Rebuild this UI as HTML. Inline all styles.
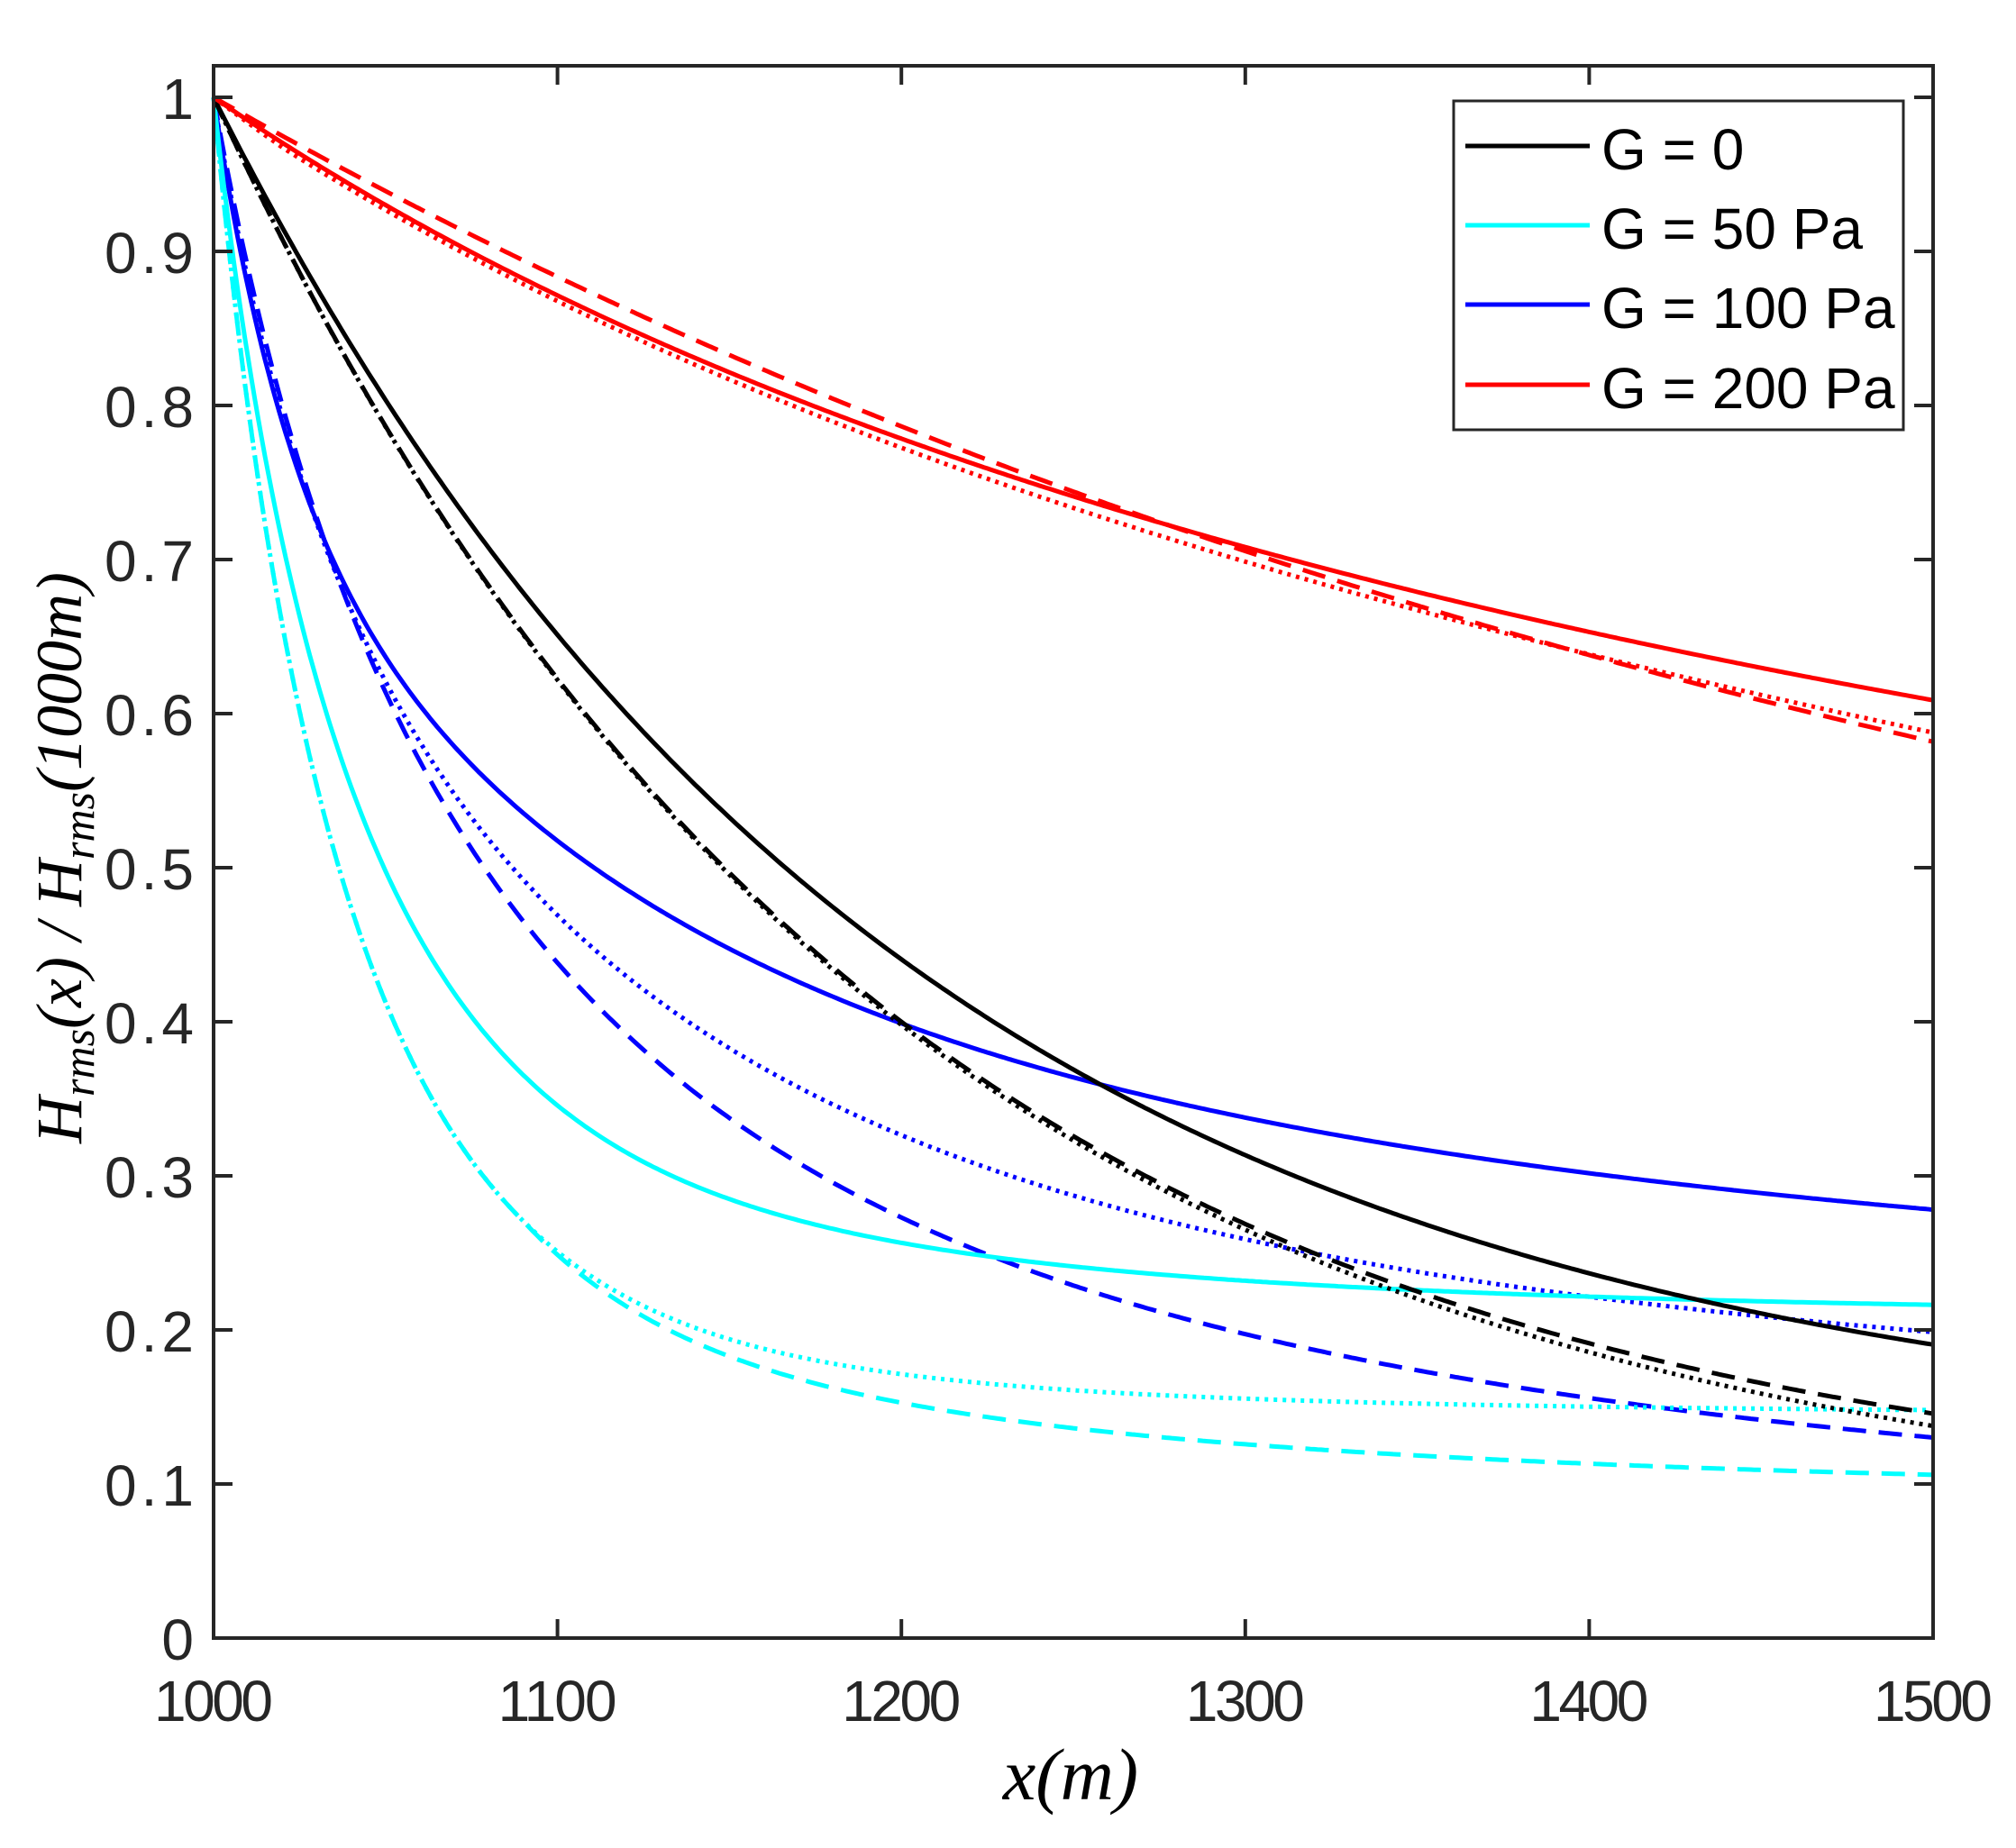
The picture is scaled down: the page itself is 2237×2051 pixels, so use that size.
<!DOCTYPE html>
<html><head><meta charset="utf-8"><style>
html,body{margin:0;padding:0;background:#fff;}
svg{display:block;}
.t{font-family:"Liberation Sans",sans-serif;fill:#262626;}
.m{font-family:"Liberation Serif",serif;font-style:italic;fill:#000;}
</style></head><body>
<svg id="s" width="2237" height="2051" viewBox="0 0 2237 2051" xmlns="http://www.w3.org/2000/svg">
<rect width="2237" height="2051" fill="#fff"/>
<g id="curves" fill="none" stroke-width="5" stroke-linejoin="round"></g>
<rect x="237" y="73" width="1908" height="1745" fill="none" stroke="#262626" stroke-width="4"/>
<g id="ticks" stroke="#262626" stroke-width="4"></g>
<g id="labels"></g>
<text class="m" x="1188" y="1997" font-size="82" text-anchor="middle">x(m)</text>
<text class="m" transform="translate(90,952) rotate(-90)" font-size="72" text-anchor="middle">H<tspan font-size="50" dy="14">rms</tspan><tspan dy="-14">(x) / H</tspan><tspan font-size="50" dy="14">rms</tspan><tspan dy="-14">(1000m)</tspan></text>
<rect x="1613" y="112" width="499" height="365" fill="#fff" stroke="#262626" stroke-width="3"/>
<g stroke-width="5">
<line x1="1626" y1="162" x2="1764" y2="162" stroke="#000"/>
<line x1="1626" y1="250" x2="1764" y2="250" stroke="#00ffff"/>
<line x1="1626" y1="338" x2="1764" y2="338" stroke="#0000ff"/>
<line x1="1626" y1="427" x2="1764" y2="427" stroke="#ff0000"/>
</g>
<g class="t" font-size="64">
<text class="t" x="1777" y="188" style="fill:#000">G = 0</text>
<text class="t" x="1777" y="276" style="fill:#000">G = 50 Pa</text>
<text class="t" x="1777" y="364" style="fill:#000">G = 100 Pa</text>
<text class="t" x="1777" y="453" style="fill:#000">G = 200 Pa</text>
</g>
</svg>
<script>
var X=function(v){return 237+(v-1000)*3.816;},Y=function(v){return 1818-1710*v;};
function ex(c,k){return function(t){return c+(1-c)*Math.exp(-k*t);};}
function pw(c,k,p){return function(t){return c+(1-c)/Math.pow(1+k*t,p);};}
function bump(f,B,tau){return function(t){return f(t)+B*t*Math.exp(-t/tau);};}
var bd=bump(pw(0.03,0.0113,1.2),0.0007,70);
var bo=bump(pw(0.10,0.01643,1),0.001,80);
var bs=bump(pw(0.165,0.01277,1),-0.004,30);
var co=bump(pw(0.145,0.0112,3),0.0045,30);
var cd=function(t){var s=t>90?(1-Math.exp(-(t-90)/250))/(1-Math.exp(-410/250)):0;return co(t)-0.042*s;};
var cs=bump(pw(0.205,0.0148,2),0.0032,30);
var kd=ex(0.08,0.00528);
var ko=function(t){return kd(t)-0.008*Math.pow(t/500,1.5);};
var ks=ex(0.12,0.00505);
var rs=pw(0.2,0.001915,1);
var ro=function(t){return rs(t)-0.003*Math.min(t/20,1)-0.018*Math.pow(t/500,2);};
var rd=ex(0.3,0.00182);
var S=[
["#0000ff",bd,"dash"],["#0000ff",bo,"dot"],["#0000ff",bs,"solid"],
["#00ffff",cd,"dash"],["#00ffff",co,"dot"],["#00ffff",cs,"solid"],
["#000",kd,"dash"],["#000",ko,"dot"],["#000",ks,"solid"],
["#ff0000",rd,"dash"],["#ff0000",ro,"dot"],["#ff0000",rs,"solid"]
];
var g=document.getElementById("curves"),ns="http://www.w3.org/2000/svg";
S.forEach(function(s){var d="";for(var t=0;t<=500;t+=1){d+=(t?"L":"M")+X(1000+t).toFixed(1)+","+Y(s[1](t)).toFixed(1);}
var e=document.createElementNS(ns,"path");e.setAttribute("d",d);e.setAttribute("stroke",s[0]);
if(s[2]=="dash")e.setAttribute("stroke-dasharray","26 14");if(s[2]=="dot")e.setAttribute("stroke-dasharray","4 6");g.appendChild(e);});
var t=document.getElementById("ticks"),l=document.getElementById("labels");
function ln(a,b,c,d){var e=document.createElementNS(ns,"line");e.setAttribute("x1",a);e.setAttribute("y1",b);e.setAttribute("x2",c);e.setAttribute("y2",d);t.appendChild(e);}
function tx(x,y,s,anc){var e=document.createElementNS(ns,"text");e.setAttribute("x",x);e.setAttribute("y",y);e.setAttribute("text-anchor",anc);e.setAttribute("class","t");e.setAttribute("font-size","64");e.setAttribute("textLength",String(s.length*33));e.textContent=s;l.appendChild(e);}
for(var i=0;i<=5;i++){var x=X(1000+i*100);ln(x,1818,x,1797);ln(x,73,x,94);tx(x,1910,String(1000+i*100),"middle");}
for(var i=0;i<=10;i++){var v=i/10,y=Y(v);ln(237,y,258,y);ln(2145,y,2124,y);var s=i==10?"1":(i==0?"0":v.toFixed(1));tx(215,y+24,s,"end");}
</script>
</body></html>
